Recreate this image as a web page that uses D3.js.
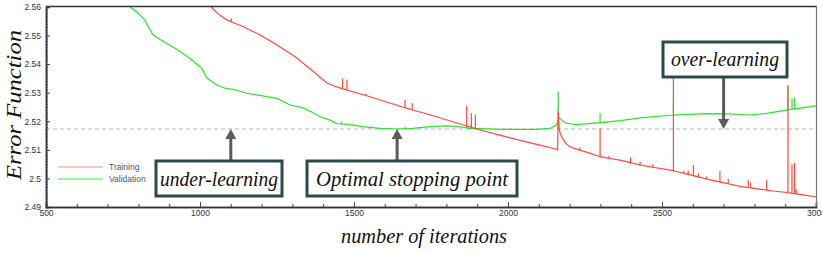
<!DOCTYPE html>
<html><head><meta charset="utf-8">
<script src="https://cdn.jsdelivr.net/npm/d3@7"></script>
<style>
html,body{margin:0;padding:0;background:#fff;}
svg{display:block;}
</style></head>
<body>
<svg id="chart" width="822" height="254"></svg>
<script>
// ---------------- data ----------------
const xTicks = [500, 1000, 1500, 2000, 2500, 3000];
const yTicks = [2.49, 2.5, 2.51, 2.52, 2.53, 2.54, 2.55, 2.56];
const yTickLabels = ["2.49", "2.5", "2.51", "2.52", "2.53", "2.54", "2.55", "2.56"];
const seriesNames = ["Training", "Validation"];

const trainingIter = [1036,1060,1087,1141,1195,1238,1281,1308,1335,1368,1411,1440,1465,1552,1660,1768,1855,1898,1985,2093,2158,2161,2163,2166,2169,2175,2180,2190,2201,2230,2255,2299,2364,2429,2537,2645,2753,2861,2910,2997,3000];
const trainingErr  = [2.5600,2.5575,2.5555,2.5531,2.5502,2.5475,2.5445,2.5427,2.5403,2.5374,2.5335,2.5322,2.5313,2.5286,2.5249,2.5216,2.5187,2.5173,2.5148,2.5119,2.5102,2.5100,2.5235,2.5175,2.5160,2.5145,2.5135,2.5120,2.5111,2.5100,2.5092,2.5076,2.5064,2.5047,2.5027,2.4998,2.4972,2.4956,2.4950,2.4936,2.4935];
const trainingSpikeIter = [1102,1463,1477,1539,1666,1689,1866,1881,1894,2234,2299,2328,2398,2429,2471,2537,2571,2585,2602,2618,2645,2688,2715,2780,2788,2840,2909,2922,2930,2936];
const trainingSpikePeak = [2.5560,2.5350,2.5345,2.5296,2.5275,2.5263,2.5254,2.5228,2.5222,2.5108,2.5175,2.5079,2.5072,2.5058,2.5050,2.5351,2.5027,2.5027,2.5047,2.5018,2.5007,2.5026,2.4998,2.4995,2.4985,2.4995,2.5324,2.5049,2.5054,2.4962];

const validationIter = [773,800,821,835,848,881,924,968,1006,1022,1054,1087,1108,1152,1217,1249,1260,1292,1335,1367,1390,1422,1444,1476,1529,1584,1638,1692,1747,1801,1833,1877,1984,2093,2136,2155,2162,2164,2169,2180,2190,2223,2299,2364,2429,2537,2645,2720,2786,2840,2910,2997,3000];
const validationErr  = [2.5600,2.5578,2.5554,2.5525,2.5502,2.5479,2.5452,2.5420,2.5385,2.5352,2.5327,2.5314,2.5312,2.5298,2.5286,2.5280,2.5275,2.5257,2.5247,2.5230,2.5216,2.5204,2.5192,2.5190,2.5181,2.5175,2.5173,2.5175,2.5181,2.5184,2.5182,2.5175,2.5172,2.5172,2.5175,2.5185,2.5200,2.5215,2.5210,2.5198,2.5193,2.5188,2.5195,2.5202,2.5212,2.5222,2.5227,2.5226,2.5222,2.5228,2.5240,2.5254,2.5255];
const validationSpikeIter = [1460,1666,1866,1881,2163,2299,2537,2909,2922,2930];
const validationSpikePeak = [2.5199,2.5180,2.5192,2.5194,2.5304,2.5228,2.5264,2.5327,2.5280,2.5283];

const optimalError = 2.5173;
const annotationText = ["under-learning", "Optimal stopping point", "over-learning"];
const annotationIter = [1100, 1640, 2700];

// ---------------- layout ----------------
const W = 822, H = 254;
const L = {left: 46, right: 816, top: 7, bottom: 207};
const boxes = [ // pixel boxes for annotations
  {x0: 156, x1: 282, y0: 161, y1: 196, base: 186, tl: 118, dir: "up"},
  {x0: 307, x1: 517, y0: 161, y1: 196, base: 186, tl: 192, dir: "up"},
  {x0: 663, x1: 787, y0: 42, y1: 77, base: 66, tl: 108, dir: "down"}
];
const RED = "#ff4a3d", GREEN = "#2fe02f";

const svg = d3.select("#chart");
const x = d3.scaleLinear().domain([500, 3000]).range([L.left, L.right]);
const y = d3.scaleLinear().domain([2.49, 2.56]).range([L.bottom, L.top]);

svg.append("defs").append("clipPath").attr("id", "clip")
  .append("rect").attr("x", L.left).attr("y", L.top)
  .attr("width", L.right - L.left).attr("height", L.bottom - L.top);

// build series with spikes
function buildSeries(iters, vals, sIter, sPeak) {
  const base = iters.map((t, i) => [t, vals[i]]);
  const interp = t => {
    for (let i = 1; i < iters.length; i++) {
      if (t <= iters[i]) {
        const f = (t - iters[i-1]) / (iters[i] - iters[i-1]);
        return vals[i-1] + f * (vals[i] - vals[i-1]);
      }
    }
    return vals[vals.length - 1];
  };
  const pts = base.slice();
  sIter.forEach((t, i) => {
    const b = interp(t);
    pts.push([t - 0.01, b], [t, sPeak[i]], [t + 0.01, b]);
  });
  pts.sort((a, b) => a[0] - b[0]);
  return pts;
}
const training = buildSeries(trainingIter, trainingErr, trainingSpikeIter, trainingSpikePeak);
const validation = buildSeries(validationIter, validationErr, validationSpikeIter, validationSpikePeak);

// dashed optimal line
svg.append("line")
  .attr("x1", x(500)).attr("x2", x(3000))
  .attr("y1", y(optimalError)).attr("y2", y(optimalError))
  .attr("stroke", "#b5b5b5").attr("stroke-width", 1).attr("stroke-dasharray", "4,3");

const line = d3.line().x(d => x(d[0])).y(d => y(d[1]));
const g = svg.append("g").attr("clip-path", "url(#clip)");
g.append("path").datum(validation).attr("d", line)
  .attr("fill", "none").attr("stroke", GREEN).attr("stroke-width", 1.2);
g.append("path").datum(training).attr("d", line)
  .attr("fill", "none").attr("stroke", RED).attr("stroke-width", 1.2);

// axes
const tickFont = "Liberation Sans, Arial, sans-serif";
const yAxis = svg.append("g").attr("transform", `translate(${L.left},0)`)
  .call(d3.axisLeft(y).tickValues(yTicks).tickSize(-4).tickPadding(5)
    .tickFormat((d, i) => yTickLabels[i]));
const yMinor = svg.append("g").attr("transform", `translate(${L.left},0)`)
  .call(d3.axisLeft(y).tickValues(d3.range(0, 71).map(i => 2.49 + i * 0.001)).tickSize(-2).tickFormat(""));
const xAxis = svg.append("g").attr("transform", `translate(0,${L.bottom})`)
  .call(d3.axisBottom(x).tickValues(xTicks).tickSize(-5).tickPadding(3).tickFormat(d3.format("d")));
const xMinor = svg.append("g").attr("transform", `translate(0,${L.bottom})`)
  .call(d3.axisBottom(x).tickValues(d3.range(500, 3001, 100)).tickSize(-3).tickFormat(""));
[yAxis, yMinor, xAxis, xMinor].forEach(a => {
  a.select(".domain").attr("stroke", "#333").attr("stroke-width", 1.5);
  a.selectAll(".tick line").attr("stroke", "#444").attr("stroke-width", 1);
  a.selectAll("text").attr("font-family", tickFont).attr("font-size", 8.5).attr("fill", "#333");
});
// frame top and right
svg.append("line").attr("x1", L.left).attr("x2", L.right + 1).attr("y1", L.top - 0.5).attr("y2", L.top - 0.5)
  .attr("stroke", "#333").attr("stroke-width", 1.5);
svg.append("line").attr("x1", L.right + 0.5).attr("x2", L.right + 0.5).attr("y1", L.top - 1).attr("y2", L.bottom)
  .attr("stroke", "#777").attr("stroke-width", 1.2);

// axis titles
const serif = "'Liberation Serif', 'Times New Roman', serif";
svg.append("text").attr("transform", `translate(21,105) rotate(-90)`)
  .attr("text-anchor", "middle").attr("font-family", serif).attr("font-style", "italic")
  .attr("font-size", 20).attr("fill", "#111")
  .attr("textLength", 150).attr("lengthAdjust", "spacingAndGlyphs")
  .text("Error Function");
svg.append("text").attr("x", 424).attr("y", 243)
  .attr("text-anchor", "middle").attr("font-family", serif).attr("font-style", "italic")
  .attr("font-size", 20).attr("fill", "#111")
  .attr("textLength", 166).attr("lengthAdjust", "spacingAndGlyphs")
  .text("number of iterations");

// legend
seriesNames.forEach((name, i) => {
  const ly = 167 + i * 12;
  svg.append("line").attr("x1", 58).attr("x2", 103).attr("y1", ly).attr("y2", ly)
    .attr("stroke", i === 0 ? "#ff8c84" : "#44e044").attr("stroke-width", 1.2);
  svg.append("text").attr("x", 109).attr("y", ly + 3).text(name)
    .attr("font-family", tickFont).attr("font-size", 8.5).attr("fill", "#555");
});

// annotations
annotationText.forEach((t, i) => {
  const b = boxes[i];
  const ax = x(annotationIter[i]);
  const tipY = y(optimalError);
  const ag = svg.append("g");
  if (b.dir === "up") {
    ag.append("line").attr("x1", ax).attr("x2", ax).attr("y1", b.y0).attr("y2", tipY + 9)
      .attr("stroke", "#5b5b5b").attr("stroke-width", 3);
    ag.append("path").attr("d", `M${ax},${tipY} L${ax - 5.5},${tipY + 10} L${ax + 5.5},${tipY + 10} Z`)
      .attr("fill", "#5b5b5b");
  } else {
    ag.append("line").attr("x1", ax).attr("x2", ax).attr("y1", b.y1).attr("y2", tipY - 9)
      .attr("stroke", "#5b5b5b").attr("stroke-width", 3);
    ag.append("path").attr("d", `M${ax},${tipY} L${ax - 5.5},${tipY - 10} L${ax + 5.5},${tipY - 10} Z`)
      .attr("fill", "#5b5b5b");
  }
  ag.append("rect").attr("x", b.x0).attr("y", b.y0).attr("width", b.x1 - b.x0).attr("height", b.y1 - b.y0)
    .attr("fill", "#fff").attr("stroke", "#2c4a4c").attr("stroke-width", 3);
  ag.append("text").attr("x", (b.x0 + b.x1) / 2).attr("y", b.base)
    .attr("text-anchor", "middle").attr("font-family", serif).attr("font-style", "italic")
    .attr("font-size", 21).attr("fill", "#111")
    .attr("textLength", b.tl).attr("lengthAdjust", "spacingAndGlyphs")
    .text(t);
});
</script>
</body></html>
